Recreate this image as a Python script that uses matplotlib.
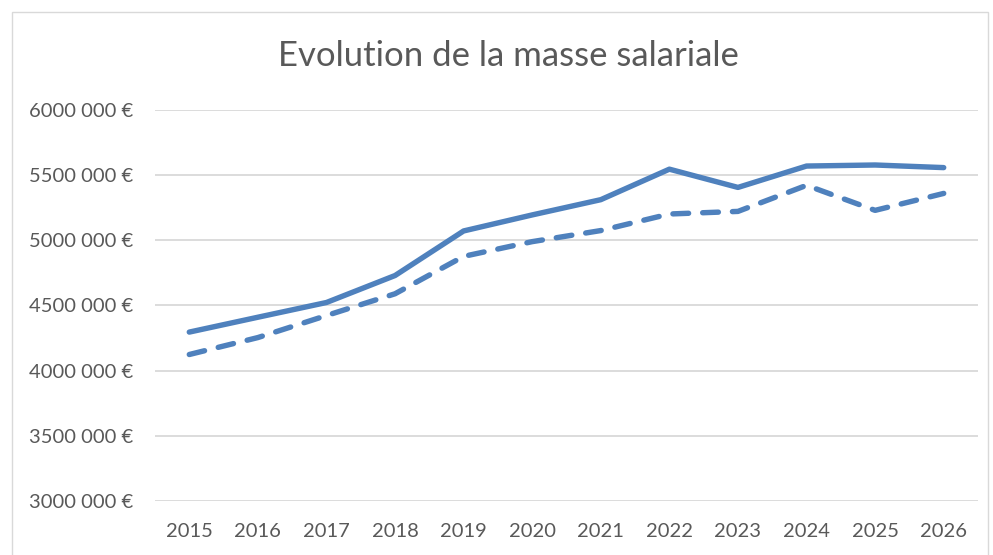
import matplotlib.pyplot as plt
from matplotlib.patches import Rectangle

years = ['2015', '2016', '2017', '2018', '2019', '2020',
         '2021', '2022', '2023', '2024', '2025', '2026']
solid = [4296000, 4410000, 4523000, 4730000, 5072000, 5195000,
         5312000, 5546000, 5406000, 5570000, 5578000, 5558000]
dashed = [4124000, 4254000, 4423000, 4590000, 4877000, 4990000,
          5075000, 5202000, 5222000, 5422000, 5230000, 5360000]
yticks = [3000000, 3500000, 4000000, 4500000, 5000000, 5500000, 6000000]
ylabels = ['3000 000 €', '3500 000 €', '4000 000 €', '4500 000 €',
           '5000 000 €', '5500 000 €', '6000 000 €']

blue = '#4F81BD'
grey = '#595959'
plt.rcParams['font.family'] = ['Lato', 'DejaVu Sans']

fig = plt.figure(figsize=(9.93, 5.55), dpi=100)
# chart area border
fig.patches.append(Rectangle((12 / 993, -0.1), (988 - 12) / 993, 1.1 - 12 / 555,
                             transform=fig.transFigure, fill=False,
                             edgecolor='#D9D9D9', linewidth=1))

ax = fig.add_axes([155 / 993, (555 - 501) / 555, (978 - 155) / 993, (501 - 110) / 555])
x = range(len(years))
ax.plot(x, solid, color=blue, linewidth=3.9, solid_capstyle='round',
        solid_joinstyle='round')
ax.plot(x, dashed, color=blue, linewidth=3.9, linestyle=(0, (2.9, 2.6)),
        dash_capstyle='round', dash_joinstyle='round')

ax.set_xlim(-0.5, 11.5)
ax.set_ylim(3000000, 6000000)
ax.set_yticks(yticks)
ax.set_yticklabels(ylabels)
ax.set_xticks(list(x))
ax.set_xticklabels(years)
ax.grid(axis='y', color='#D9D9D9', linewidth=1.3)
ax.set_axisbelow(True)
for s in ax.spines.values():
    s.set_visible(False)
ax.tick_params(length=0, labelsize=14.5, labelcolor=grey)
ax.tick_params(axis='y', pad=16)
ax.tick_params(axis='x', pad=16)

fig.text(508 / 993, 1 - 56 / 555, 'Evolution de la masse salariale',
         ha='center', va='center', fontsize=25, color=grey)

fig.savefig('out.png', dpi=100)
